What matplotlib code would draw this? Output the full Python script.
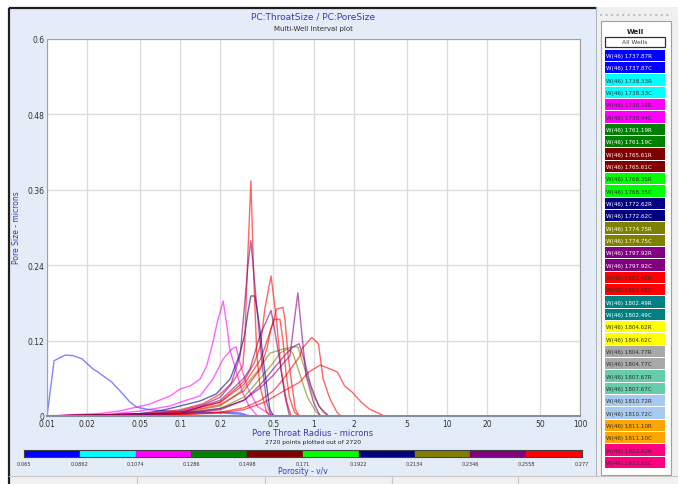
import matplotlib
matplotlib.use('Agg')
import matplotlib.pyplot as plt
from matplotlib.patches import Rectangle
from matplotlib.lines import Line2D

W, H = 678, 485

# ---- datos ----
x_ticks = [0.01, 0.02, 0.05, 0.1, 0.2, 0.5, 1, 2, 5, 10, 20, 50, 100]
x_tick_labels = ['0.01', '0.02', '0.05', '0.1', '0.2', '0.5', '1', '2', '5', '10', '20', '50', '100']
y_ticks = [0, 0.12, 0.24, 0.36, 0.48, 0.6]
y_tick_labels = ['0', '0.12', '0.24', '0.36', '0.48', '0.6']

porosity_edges = [0.065, 0.0862, 0.1074, 0.1286, 0.1498, 0.171, 0.1922,
                  0.2134, 0.2346, 0.2558, 0.277]
porosity_colors = ['#0000FF', '#00FFFF', '#FF00FF', '#008000', '#800000',
                   '#00FF00', '#000080', '#808000', '#800080', '#FF0000']

wells = ['1737.87R', '1737.87C', '1738.33R', '1738.33C', '1738.94R', '1738.94C',
         '1761.19R', '1761.19C', '1765.61R', '1765.61C', '1768.35R', '1768.35C',
         '1772.62R', '1772.62C', '1774.75R', '1774.75C', '1797.92R', '1797.92C',
         '1801.42R', '1801.42C', '1802.49R', '1802.49C', '1804.62R', '1804.62C',
         '1804.77R', '1804.77C', '1807.67R', '1807.67C', '1810.72R', '1810.72C',
         '1811.10R', '1811.10C', '1823.82R', '1823.82C']
well_colors = ['#0000FF', '#0000FF', '#00FFFF', '#00FFFF', '#FF00FF', '#FF00FF',
               '#008000', '#008000', '#800000', '#800000', '#00FF00', '#00FF00',
               '#000080', '#000080', '#808000', '#808000', '#800080', '#800080',
               '#FF0000', '#FF0000', '#008080', '#008080', '#FFFF00', '#FFFF00',
               '#A9A9A9', '#A9A9A9', '#66CDAA', '#66CDAA', '#A6CAF0', '#A6CAF0',
               '#FFA500', '#FFA500', '#FF0080', '#FF0080']
well_text = ['w', 'w', 'd', 'd', 'd', 'd', 'w', 'w', 'w', 'w', 'd', 'd',
             'w', 'w', 'w', 'w', 'w', 'w', 'd', 'd', 'w', 'w', 'd', 'd',
             'd', 'd', 'd', 'd', 'd', 'd', 'd', 'd', 'd', 'd']

# curvas (radio de garganta en micras, tamaño de poro en micras)
blue_r_x = [0.010, 0.0113, 0.0137, 0.0157, 0.0183, 0.0221, 0.0241, 0.0263, 0.0306, 0.0353,
            0.042, 0.047, 0.059, 0.08, 0.10, 0.15, 0.2, 0.28, 0.32]
blue_r_y = [0.0, 0.088, 0.097, 0.096, 0.091, 0.075, 0.070, 0.064, 0.054, 0.040,
            0.022, 0.014, 0.010, 0.008, 0.007, 0.006, 0.005, 0.003, 0.0]
blue_c_x = [0.01, 0.05, 0.1, 0.2, 0.28, 0.31, 0.34]
blue_c_y = [0.0, 0.002, 0.004, 0.006, 0.005, 0.002, 0.0]

mag_a_x = [0.01, 0.025, 0.035, 0.059, 0.084, 0.1, 0.119, 0.141, 0.158, 0.176, 0.19,
           0.210, 0.225, 0.235, 0.26, 0.29, 0.33, 0.38]
mag_a_y = [0.0, 0.004, 0.008, 0.019, 0.032, 0.043, 0.048, 0.059, 0.080, 0.118, 0.15,
           0.183, 0.14, 0.107, 0.075, 0.040, 0.015, 0.0]
mag_c_x = [0.01, 0.03, 0.05, 0.084, 0.1, 0.141, 0.176, 0.21, 0.245, 0.262, 0.28,
           0.32, 0.38, 0.47, 0.52]
mag_c_y = [0.0, 0.003, 0.008, 0.016, 0.022, 0.032, 0.059, 0.091, 0.107, 0.110, 0.085,
           0.045, 0.015, 0.003, 0.0]

navy_x = [0.01, 0.03, 0.05, 0.07, 0.1, 0.141, 0.186, 0.237, 0.281, 0.305, 0.322,
          0.339, 0.363, 0.38, 0.396, 0.416, 0.445, 0.47, 0.5]
navy_y = [0.0, 0.002, 0.004, 0.008, 0.016, 0.024, 0.035, 0.059, 0.100, 0.130, 0.165,
          0.191, 0.191, 0.165, 0.138, 0.096, 0.048, 0.011, 0.0]

purple_a_x = [0.01, 0.05, 0.1, 0.15, 0.2, 0.24, 0.281, 0.305, 0.322, 0.339, 0.373,
              0.41, 0.445, 0.48]
purple_a_y = [0.0, 0.002, 0.008, 0.018, 0.030, 0.050, 0.096, 0.18, 0.24, 0.279, 0.18,
              0.086, 0.022, 0.0]
purple_b_x = [0.01, 0.1, 0.2, 0.3, 0.334, 0.396, 0.48, 0.51, 0.56, 0.61, 0.66]
purple_b_y = [0.0, 0.004, 0.025, 0.06, 0.075, 0.128, 0.168, 0.138, 0.086, 0.032, 0.0]
purple_c_x = [0.01, 0.1, 0.2, 0.3, 0.4, 0.5, 0.6, 0.666, 0.71, 0.763, 0.82, 0.88,
              1.0, 1.12]
purple_c_y = [0.0, 0.004, 0.012, 0.025, 0.045, 0.065, 0.085, 0.096, 0.144, 0.196, 0.128,
              0.064, 0.022, 0.0]
purple_d_x = [0.01, 0.1, 0.2, 0.3, 0.4, 0.5, 0.6, 0.7, 0.78, 0.85, 0.95, 1.1, 1.3]
purple_d_y = [0.0, 0.003, 0.010, 0.025, 0.050, 0.075, 0.095, 0.110, 0.115, 0.090,
              0.050, 0.015, 0.0]

red_a_x = [0.01, 0.05, 0.1, 0.15, 0.2, 0.25, 0.295, 0.305, 0.322, 0.339, 0.355, 0.375,
           0.396, 0.445, 0.47]
red_a_y = [0.0, 0.003, 0.010, 0.020, 0.035, 0.055, 0.080, 0.118, 0.26, 0.374, 0.23, 0.10,
           0.048, 0.006, 0.0]
red_b_x = [0.01, 0.05, 0.1, 0.2, 0.3, 0.36, 0.40, 0.431, 0.48, 0.527, 0.57, 0.63, 0.68]
red_b_y = [0.0, 0.002, 0.006, 0.022, 0.055, 0.085, 0.112, 0.17, 0.223, 0.154, 0.075,
           0.022, 0.0]
red_c_x = [0.01, 0.05, 0.1, 0.2, 0.3, 0.4, 0.445, 0.49, 0.527, 0.59, 0.61, 0.645,
           0.69, 0.73, 0.78]
red_c_y = [0.0, 0.002, 0.006, 0.022, 0.050, 0.090, 0.118, 0.144, 0.170, 0.173, 0.154,
           0.096, 0.048, 0.011, 0.0]
red_d_x = [0.01, 0.1, 0.2, 0.3, 0.4, 0.45, 0.48, 0.51, 0.56, 0.59, 0.62, 0.66, 0.72, 0.78]
red_d_y = [0.0, 0.005, 0.018, 0.040, 0.075, 0.110, 0.140, 0.154, 0.154, 0.120, 0.070,
           0.030, 0.006, 0.0]
red_e_x = [0.01, 0.1, 0.2, 0.3, 0.4, 0.5, 0.6, 0.7, 0.79, 0.82, 0.97, 1.09, 1.18,
           1.33, 1.50, 1.6]
red_e_y = [0.0, 0.002, 0.006, 0.013, 0.025, 0.040, 0.060, 0.080, 0.095, 0.107, 0.125,
           0.115, 0.059, 0.027, 0.006, 0.0]
red_f_x = [0.01, 0.1, 0.2, 0.3, 0.43, 0.6, 0.79, 0.92, 1.125, 1.33, 1.51, 1.71, 1.95,
           2.28, 2.63, 3.4]
red_f_y = [0.0, 0.002, 0.005, 0.010, 0.022, 0.040, 0.054, 0.070, 0.081, 0.075, 0.070,
           0.048, 0.038, 0.022, 0.011, 0.0]

olive_a_x = [0.01, 0.1, 0.2, 0.28, 0.375, 0.47, 0.6, 0.7, 0.763, 0.86, 1.0, 1.18, 1.3]
olive_a_y = [0.0, 0.004, 0.016, 0.038, 0.070, 0.100, 0.107, 0.110, 0.110, 0.075,
             0.032, 0.006, 0.0]
olive_b_x = [0.01, 0.1, 0.2, 0.3, 0.4, 0.5, 0.56, 0.64, 0.7, 0.78, 0.9, 1.05, 1.15]
olive_b_y = [0.0, 0.003, 0.012, 0.030, 0.060, 0.085, 0.100, 0.107, 0.100, 0.070,
             0.030, 0.006, 0.0]

curves = [
    (blue_r_x, blue_r_y, '#3030FF'),
    (blue_c_x, blue_c_y, '#3030FF'),
    (mag_a_x, mag_a_y, '#FF00FF'),
    (mag_c_x, mag_c_y, '#FF00FF'),
    (olive_a_x, olive_a_y, '#808000'),
    (olive_b_x, olive_b_y, '#808000'),
    (purple_d_x, purple_d_y, '#800080'),
    (red_e_x, red_e_y, '#FF0000'),
    (red_f_x, red_f_y, '#FF0000'),
    (red_c_x, red_c_y, '#FF0000'),
    (red_d_x, red_d_y, '#FF0000'),
    (red_b_x, red_b_y, '#FF0000'),
    (purple_b_x, purple_b_y, '#800080'),
    (purple_c_x, purple_c_y, '#800080'),
    (navy_x, navy_y, '#000080'),
    (red_a_x, red_a_y, '#FF0000'),
    (purple_a_x, purple_a_y, '#800080'),
]


def fx(px):
    return px / W


def fy(py):
    return 1 - py / H


def rect(x0, y0, x1, y1, z=-5, **kw):
    fig.add_artist(Rectangle((fx(x0), fy(y1)), fx(x1) - fx(x0), fy(y0) - fy(y1),
                             transform=fig.transFigure, zorder=z, **kw))


def line(x0, y0, x1, y1, z=-4, **kw):
    fig.add_artist(Line2D([fx(x0), fx(x1)], [fy(y0), fy(y1)],
                          transform=fig.transFigure, zorder=z, **kw))


fig = plt.figure(figsize=(W / 100, H / 100), dpi=100, facecolor='white')

# ---- marcos de la ventana ----
rect(8, 8, 596, 477, facecolor='#E4EDF7', edgecolor='none')
line(10, 8.5, 596, 8.5, color='#202020', lw=1.6)
line(8.5, 10, 8.5, 485, color='#202020', lw=1.6)
line(596, 8, 596, 477, color='#B0B8C0', lw=0.8)
rect(9, 477, 678, 485, facecolor='#F0F0F0', edgecolor='none')
line(9, 477, 678, 477, color='#C8C8C8', lw=0.8)
for px in [137, 265, 392, 518]:
    line(px, 478, px, 485, color='#C8C8C8', lw=0.8)

# panel derecho
rect(597, 8, 678, 477, facecolor='#F0F0F0', edgecolor='none')
line(600, 16, 672, 16, color='#C0C0C0', lw=1.5, ls=':')
rect(601, 22, 671, 476, z=-3, facecolor='white', edgecolor='#A0A0A0', lw=0.8)
fig.text(fx(635), fy(32), 'Well', ha='center', va='center', fontsize=5,
         fontweight='bold', color='#202020')
rect(605, 38, 665, 48, z=2, facecolor='white', edgecolor='#303030', lw=0.9)
fig.text(fx(635), fy(43), 'All Wells', ha='center', va='center', fontsize=4.3,
         color='#404040', zorder=3)
for i, (name, col, tc) in enumerate(zip(wells, well_colors, well_text)):
    top = 50.7 + i * 12.33
    rect(605, top, 665, top + 11.3, z=2, facecolor=col, edgecolor='none')
    fig.text(fx(606.5), fy(top + 5.8), 'W(46) ' + name, ha='left', va='center',
             fontsize=4.1, color='white' if tc == 'w' else '#303030', zorder=3)

# ---- gráfico principal ----
ax = fig.add_axes([fx(47), fy(417), fx(580) - fx(47), fy(40) - fy(417)])
ax.set_facecolor('white')
for xs, ys, col in curves:
    ax.plot(xs, ys, color=col, lw=1.0, alpha=0.6)

ax.set_xscale('log')
ax.set_xlim(0.01, 100)
ax.set_ylim(0, 0.6)
ax.set_xticks(x_ticks)
ax.set_xticklabels(x_tick_labels)
ax.set_yticks(y_ticks)
ax.set_yticklabels(y_tick_labels)
ax.minorticks_off()
ax.grid(True, color='#DCDCDC', lw=1.0)
ax.set_axisbelow(True)
ax.tick_params(length=0, labelsize=5.5, labelcolor='#303030', pad=2)
for s in ax.spines.values():
    s.set_color('#A0A0A0')
    s.set_linewidth(0.8)
ax.spines['bottom'].set_color('#8090A0')
ax.spines['bottom'].set_linewidth(1.5)

fig.text(fx(313), fy(17), 'PC:ThroatSize / PC:PoreSize', ha='center', va='center',
         fontsize=6.5, color='#3A3AB0')
fig.text(fx(313), fy(29), 'Multi-Well Interval plot', ha='center', va='center',
         fontsize=5, color='#303030')
fig.text(fx(17), fy(228), 'Pore Size - microns', ha='center', va='center',
         rotation=90, fontsize=5.5, color='#3A3AB0')
fig.text(fx(313), fy(433), 'Pore Throat Radius - microns', ha='center', va='center',
         fontsize=6, color='#3A3AB0')
fig.text(fx(313), fy(443), '2720 points plotted out of 2720', ha='center',
         va='center', fontsize=4.3, color='#202020')

# ---- barra de porosidad ----
cax = fig.add_axes([fx(24), fy(457.5), fx(582) - fx(24), fy(451) - fy(457.5)])
for i, col in enumerate(porosity_colors):
    cax.axvspan(porosity_edges[i], porosity_edges[i + 1], color=col)
cax.set_xlim(porosity_edges[0], porosity_edges[-1])
cax.set_ylim(0, 1)
cax.set_yticks([])
cax.set_xticks(porosity_edges)
cax.set_xticklabels([str(v) for v in porosity_edges])
cax.tick_params(length=0, labelsize=3.6, labelcolor='#303030', pad=3)
for s in cax.spines.values():
    s.set_color('#404040')
    s.set_linewidth(0.8)
fig.text(fx(303), fy(472), 'Porosity - v/v', ha='center', va='center',
         fontsize=5.5, color='#3A3AB0')

fig.savefig('out.png', dpi=100, facecolor='white')
